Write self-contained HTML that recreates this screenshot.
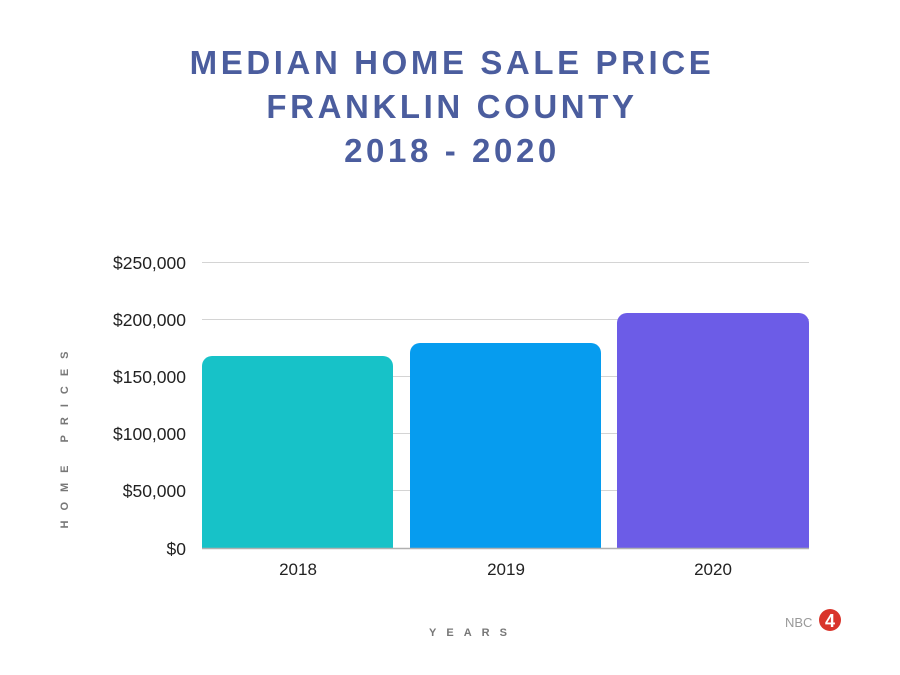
<!DOCTYPE html>
<html><head><style>
body{margin:0;background:#fff;}
svg{display:block}
</style></head><body>
<svg width="900" height="675" xmlns="http://www.w3.org/2000/svg">
<rect width="900" height="675" fill="#fff"/>
<g font-family="Liberation Sans, sans-serif" font-weight="bold" fill="#4b5d9e" font-size="33" text-anchor="middle" letter-spacing="3.6">
<text x="452" y="74">MEDIAN HOME SALE PRICE</text>
<text x="452" y="118">FRANKLIN COUNTY</text>
<text x="452" y="162">2018 - 2020</text>
</g>
<g stroke="#d4d4d4" stroke-width="1">
<line x1="202" y1="262.5" x2="809" y2="262.5"/>
<line x1="202" y1="319.5" x2="809" y2="319.5"/>
<line x1="202" y1="376.5" x2="809" y2="376.5"/>
<line x1="202" y1="433.5" x2="809" y2="433.5"/>
<line x1="202" y1="490.5" x2="809" y2="490.5"/>
</g>
<path d="M202,548 V366 a10,10 0 0 1 10,-10 H383 a10,10 0 0 1 10,10 V548Z" fill="#17c2c8"/>
<path d="M410,548 V353 a10,10 0 0 1 10,-10 H591 a10,10 0 0 1 10,10 V548Z" fill="#069cef"/>
<path d="M617,548 V323 a10,10 0 0 1 10,-10 H799 a10,10 0 0 1 10,10 V548Z" fill="#6c5ce7"/>
<line x1="202" y1="548.5" x2="809" y2="548.5" stroke="#b0b0b0" stroke-width="1.5"/>
<g font-family="Liberation Sans, sans-serif" font-size="17.5" fill="#222" text-anchor="end">
<text x="186" y="269">$250,000</text>
<text x="186" y="326">$200,000</text>
<text x="186" y="383">$150,000</text>
<text x="186" y="440">$100,000</text>
<text x="186" y="497">$50,000</text>
<text x="186" y="555">$0</text>
</g>
<g font-family="Liberation Sans, sans-serif" font-size="17" fill="#222" text-anchor="middle">
<text x="298" y="575">2018</text>
<text x="506" y="575">2019</text>
<text x="713" y="575">2020</text>
</g>
<text x="473" y="636" font-family="Liberation Sans, sans-serif" font-weight="bold" font-size="11" fill="#777" text-anchor="middle" letter-spacing="10">YEARS</text>
<text transform="translate(68,435) rotate(-90)" font-family="Liberation Sans, sans-serif" font-weight="bold" font-size="11" fill="#777" text-anchor="middle" letter-spacing="10">HOME PRICES</text>
<text x="785" y="627" font-family="Liberation Sans, sans-serif" font-size="13" fill="#999">NBC</text>
<circle cx="830" cy="620" r="11" fill="#d9342b"/>
<text x="830" y="627" font-family="Liberation Sans, sans-serif" font-weight="bold" font-size="18" fill="#fff" text-anchor="middle">4</text>
</svg>
</body></html>
